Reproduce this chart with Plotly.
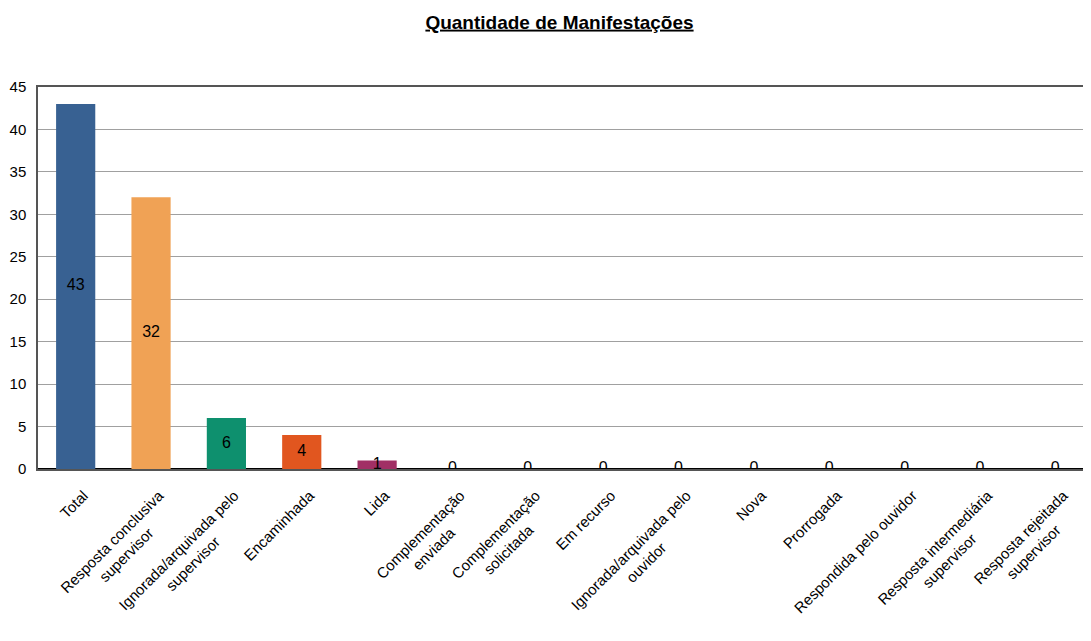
import plotly.graph_objects as go

# data
category_lines = [["Total"], ["Resposta conclusiva", "supervisor"], ["Ignorada/arquivada pelo", "supervisor"],
                  ["Encaminhada"], ["Lida"], ["Complementação", "enviada"], ["Complementação", "solicitada"],
                  ["Em recurso"], ["Ignorada/arquivada pelo", "ouvidor"], ["Nova"], ["Prorrogada"],
                  ["Respondida pelo ouvidor"], ["Resposta intermediária", "supervisor"],
                  ["Resposta rejeitada", "supervisor"]]
values = [43, 32, 6, 4, 1, 0, 0, 0, 0, 0, 0, 0, 0, 0]
colors = ["#386192", "#F0A255", "#0E906E", "#E1561F", "#A12F65"] + ["#808080"] * 9
y_ticks = [0, 5, 10, 15, 20, 25, 30, 35, 40, 45]

FONT = "Liberation Sans, Arial, sans-serif"

# approximate Arial advance widths (per 1000 em) to centre wrapped tick-label lines
W = {" ": 278, "a": 556, "b": 556, "c": 500, "d": 556, "e": 556, "f": 278, "g": 556, "h": 556,
     "i": 222, "j": 222, "k": 500, "l": 222, "m": 833, "n": 556, "o": 556, "p": 556, "q": 556,
     "r": 333, "s": 500, "t": 278, "u": 556, "v": 500, "w": 722, "x": 500, "y": 500, "z": 500,
     "ç": 500, "ã": 556, "á": 556, "/": 278, "R": 722, "I": 278, "C": 722, "E": 667, "T": 611,
     "L": 556, "N": 722, "P": 667}


def width(s):
    return sum(W.get(ch, 556) for ch in s)


def label(lines):
    if len(lines) == 1:
        return lines[0]
    first = lines[0]
    out = [first]
    for ln in lines[1:]:
        pad = round((width(first) - width(ln)) / 2 / 278)
        out.append(ln + "\u00a0" * max(pad, 0))
    return "<br>".join(out)


categories = [label(l) for l in category_lines]
xpos = list(range(len(categories)))

fig = go.Figure()
fig.add_trace(go.Bar(x=xpos, y=values, marker=dict(color=colors, line=dict(width=0)),
                     hovertext=[" ".join(l) for l in category_lines], hoverinfo="text+y",
                     showlegend=False))
fig.add_trace(go.Scatter(x=xpos, y=[v / 2 for v in values], mode="text",
                         text=[str(v) for v in values],
                         textfont=dict(family=FONT, size=16, color="#000000"),
                         hoverinfo="skip", showlegend=False))

fig.update_layout(
    width=1091, height=641,
    margin=dict(l=30, r=6, t=79, b=180, autoexpand=False),
    paper_bgcolor="white", plot_bgcolor="white",
    bargap=0.48,
    title=dict(text="<b><u>Quantidade de Manifestações</u></b>", x=0.5055, xanchor="center",
               y=1 - 14 / 641, yanchor="middle",
               font=dict(family=FONT, size=19, color="#000000")),
    font=dict(family=FONT, color="#000000"),
)
fig.update_xaxes(range=[-0.5, len(categories) - 0.5], tickmode="array", tickvals=xpos,
                 ticktext=categories,
                 tickangle=-45, tickfont=dict(size=15, color="#000000"), showgrid=False,
                 showline=True, linecolor="#555555", linewidth=2, mirror=True,
                 ticks="", ticklabelstandoff=10, ticklabelshift=8, automargin=False)
fig.update_yaxes(range=[0, 45], tickvals=y_ticks, tickfont=dict(size=15, color="#000000"),
                 showgrid=True, gridcolor="#a0a0a0", gridwidth=1,
                 zeroline=True, zerolinecolor="#000000", zerolinewidth=2.5,
                 showline=True, linecolor="#555555", linewidth=1.5, mirror=True,
                 ticks="", ticklabelstandoff=7, automargin=False)

fig.write_html("out.html")
